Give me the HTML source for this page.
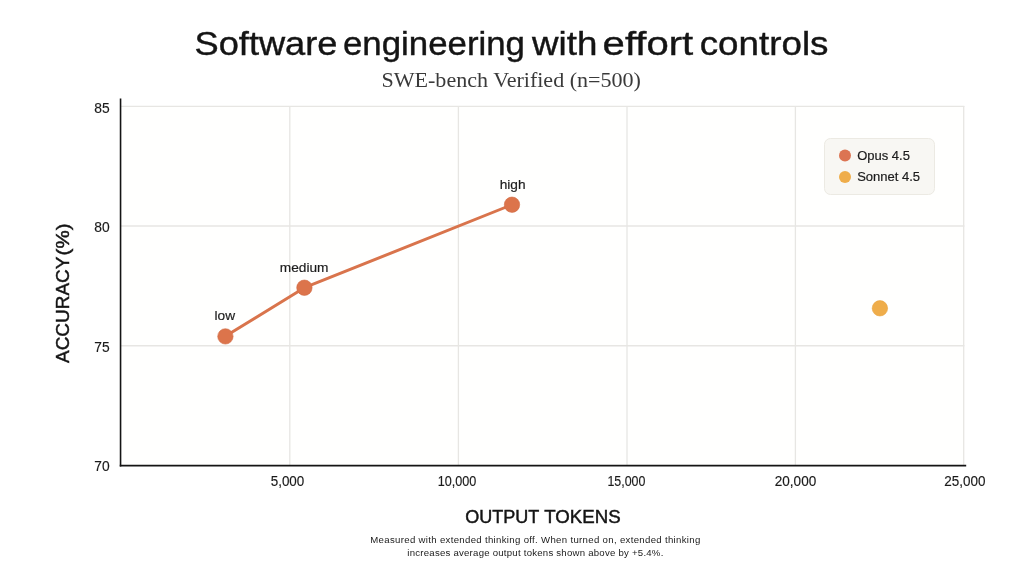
<!DOCTYPE html>
<html lang="en">
<head>
<meta charset="utf-8">
<title>Software engineering with effort controls</title>
<style>
  html, body { margin: 0; padding: 0; background: #ffffff; }
  body { width: 1024px; height: 576px; overflow: hidden; position: relative; }
  svg { position: absolute; left: 0; top: 0; display: block; }
  text { font-family: "Liberation Sans", sans-serif; fill: #1a1a1a; }
  .title { font-size: 32.5px; fill: #141414; stroke: #141414; stroke-width: 0.4px; }
  .subtitle { font-family: "Liberation Serif", serif; font-size: 20px; fill: #3a3a3a; }
  .tick { font-size: 13.8px; fill: #222; stroke: #222; stroke-width: 0.15px; }
  .axis-title { font-size: 18px; fill: #141414; stroke: #141414; stroke-width: 0.45px; }
  .pt-label { font-size: 13.7px; fill: #2a2a2a; stroke: #2a2a2a; stroke-width: 0.2px; }
  .legend { font-size: 13px; fill: #1f1f1f; stroke: #1f1f1f; stroke-width: 0.2px; }
  .note { font-size: 9.6px; fill: #606060; }
</style>
</head>
<body>
<svg width="1024" height="576" viewBox="0 0 1024 576">
  <rect x="0" y="0" width="1024" height="576" fill="#ffffff"/>
  <!-- plot background -->
  <rect x="121" y="106" width="843" height="360" fill="#fffffe"/>

  <!-- grid -->
  <g stroke="#e7e6e3" stroke-width="1.3" fill="none">
    <line x1="121" y1="106.4" x2="964.4" y2="106.4"/>
    <line x1="121" y1="226" x2="964.4" y2="226"/>
    <line x1="121" y1="345.75" x2="964.4" y2="345.75"/>
    <line x1="289.8" y1="106" x2="289.8" y2="465"/>
    <line x1="458.4" y1="106" x2="458.4" y2="465"/>
    <line x1="627" y1="106" x2="627" y2="465"/>
    <line x1="795.4" y1="106" x2="795.4" y2="465"/>
    <line x1="963.7" y1="106" x2="963.7" y2="465"/>
  </g>

  <!-- axes -->
  <g stroke="#141414" stroke-width="1.6" fill="none">
    <line x1="120.55" y1="98.6" x2="120.55" y2="466.4"/>
    <line x1="119.75" y1="465.65" x2="966.2" y2="465.65"/>
  </g>

  <!-- title + subtitle -->
  <text class="title" y="54.8"><tspan x="194.5" textLength="143" lengthAdjust="spacingAndGlyphs">Software</tspan> <tspan x="343" textLength="182" lengthAdjust="spacingAndGlyphs">engineering</tspan> <tspan x="532.1" textLength="65.3" lengthAdjust="spacingAndGlyphs">with</tspan> <tspan x="602.6" textLength="90.6" lengthAdjust="spacingAndGlyphs">effort</tspan> <tspan x="699.7" textLength="128.8" lengthAdjust="spacingAndGlyphs">controls</tspan></text>
  <text class="subtitle" transform="translate(511.2,86.5) scale(1.104,1)" x="0" y="0" text-anchor="middle">SWE-bench Verified (n=500)</text>

  <!-- y ticks -->
  <g class="tick" text-anchor="end" transform="translate(0.2,0)">
    <text x="109.5" y="112.8">85</text>
    <text x="109.5" y="232.2">80</text>
    <text x="109.5" y="351.8">75</text>
    <text x="109.5" y="470.5">70</text>
  </g>

  <!-- x ticks -->
  <g class="tick" text-anchor="middle">
    <text x="287.5" y="486" textLength="33.6" lengthAdjust="spacingAndGlyphs">5,000</text>
    <text x="457" y="486" textLength="38.6" lengthAdjust="spacingAndGlyphs">10,000</text>
    <text x="626.4" y="486" textLength="38" lengthAdjust="spacingAndGlyphs">15,000</text>
    <text x="795.5" y="486" textLength="41.4" lengthAdjust="spacingAndGlyphs">20,000</text>
    <text x="964.8" y="486" textLength="41.2" lengthAdjust="spacingAndGlyphs">25,000</text>
  </g>

  <!-- axis titles -->
  <text class="axis-title" y="522.5"><tspan x="465.2" textLength="73.8" lengthAdjust="spacingAndGlyphs">OUTPUT</tspan> <tspan x="544.2" textLength="76.4" lengthAdjust="spacingAndGlyphs">TOKENS</tspan></text>
  <text class="axis-title" transform="translate(68.7,363) rotate(-90)" y="0"><tspan x="0" textLength="106" lengthAdjust="spacingAndGlyphs">ACCURACY</tspan> <tspan x="107.6" textLength="32" lengthAdjust="spacingAndGlyphs">(%)</tspan></text>

  <!-- footnote -->
  <g class="note" text-anchor="middle">
    <text x="535.3" y="542.8" textLength="330" lengthAdjust="spacing">Measured with extended thinking off. When turned on, extended thinking</text>
    <text x="535.3" y="555.8" textLength="256" lengthAdjust="spacing">increases average output tokens shown above by +5.4%.</text>
  </g>

  <!-- series: Opus 4.5 -->
  <polyline points="225.3,336.3 304.4,287.7 512,204.7" fill="none" stroke="#d9744c" stroke-width="3" stroke-linejoin="round" stroke-linecap="round"/>
  <g fill="#dc744b" stroke="#d26c45" stroke-width="0.6">
    <circle cx="225.4" cy="336.4" r="7.7"/>
    <circle cx="304.4" cy="287.7" r="7.7"/>
    <circle cx="512" cy="204.7" r="7.7"/>
  </g>
  <g class="pt-label" text-anchor="middle">
    <text x="224.8" y="319.7">low</text>
    <text x="304.2" y="271.8">medium</text>
    <text x="512.6" y="189">high</text>
  </g>

  <!-- series: Sonnet 4.5 -->
  <circle cx="879.9" cy="308.3" r="7.7" fill="#efad4a" stroke="#e9a540" stroke-width="0.6"/>

  <!-- legend -->
  <rect x="824.5" y="138.5" width="110" height="56" rx="6" ry="6" fill="#f8f7f3" stroke="#eceae3" stroke-width="1"/>
  <circle cx="845" cy="155.6" r="6" fill="#dc7452"/>
  <circle cx="845" cy="176.9" r="6" fill="#efad4a"/>
  <g class="legend">
    <text x="857.2" y="159.9">Opus 4.5</text>
    <text x="857.2" y="181.1">Sonnet 4.5</text>
  </g>
</svg>
</body>
</html>
